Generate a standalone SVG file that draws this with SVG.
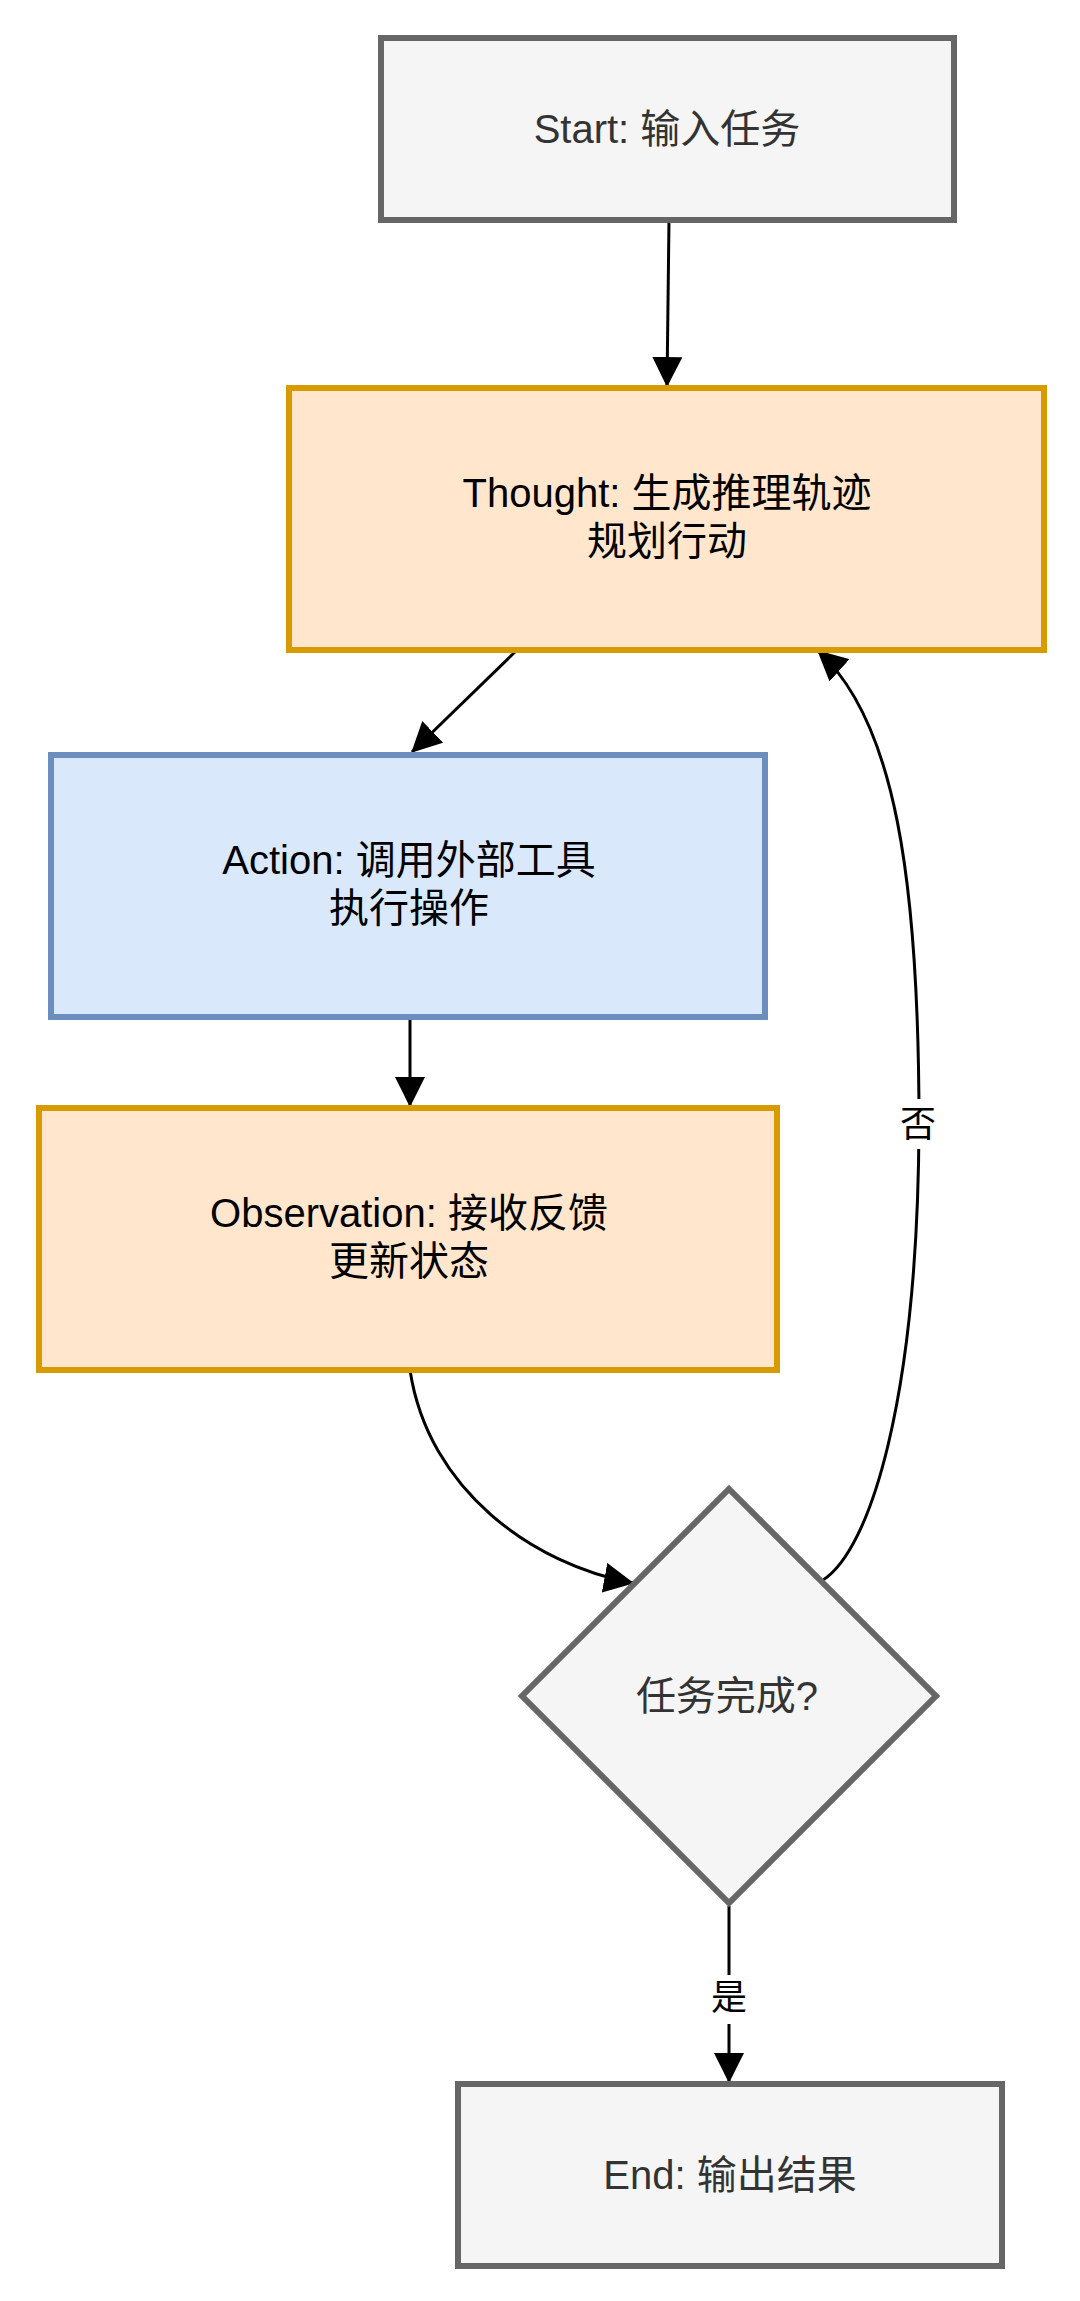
<svg xmlns="http://www.w3.org/2000/svg" width="1080" height="2301" viewBox="0 0 1080 2301">
  <defs>
    <marker id="arrow" markerUnits="userSpaceOnUse" markerWidth="30" markerHeight="30" viewBox="0 0 28 28" refX="27" refY="14" orient="auto">
      <path d="M0,0 L28,14 L0,28 Z" fill="#000000"/>
    </marker>
    <style>
      .t { font-family: "Liberation Sans", Arial, "Noto Sans CJK SC", sans-serif; font-size: 40px; text-anchor: middle; }
      .grey { fill: #f5f5f5; stroke: #666666; stroke-width: 6; }
      .orange { fill: #ffe6cc; stroke: #d79b00; stroke-width: 6; }
      .blue { fill: #dae8fc; stroke: #6c8ebf; stroke-width: 6; }
      .edge { fill: none; stroke: #000000; stroke-width: 3; marker-end: url(#arrow); }
      .lbl { font-family: "Liberation Sans", Arial, "Noto Sans CJK SC", sans-serif; font-size: 36px; text-anchor: middle; fill: #000000; }
    </style>
  </defs>
  <rect width="1080" height="2301" fill="#ffffff"/>

  <g id="connectors">
    <path class="edge" d="M669,220 L667,386"/>
    <path class="edge" d="M517,650 L412,752"/>
    <path class="edge" d="M410,1017 L410,1106"/>
    <path class="edge" d="M410,1370 C428,1490 533,1564.5 633,1583"/>
    <path class="edge" d="M823,1580 C870,1550 918,1400 919,1124 C919,880 895,720 818,651"/>
    <path class="edge" d="M729,1906 L729,2082"/>
    <rect x="898" y="1099" width="42" height="50" fill="#ffffff"/>
    <text class="lbl" x="918" y="1137">否</text>
    <rect x="708" y="1975" width="42" height="49" fill="#ffffff"/>
    <text class="lbl" x="729" y="2010">是</text>
  </g>

  <g id="start">
    <rect class="grey" x="381" y="38" width="573" height="182"/>
    <text class="t" x="667" y="143" fill="#333333">Start: 输入任务</text>
  </g>

  <g id="thought">
    <rect class="orange" x="289" y="388" width="755" height="262"/>
    <text class="t" x="667" y="507" fill="#000000">Thought: 生成推理轨迹</text>
    <text class="t" x="667" y="555" fill="#000000">规划行动</text>
  </g>

  <g id="action">
    <rect class="blue" x="51" y="755" width="714" height="262"/>
    <text class="t" x="409" y="874" fill="#000000">Action: 调用外部工具</text>
    <text class="t" x="409" y="922" fill="#000000">执行操作</text>
  </g>

  <g id="observation">
    <rect class="orange" x="39" y="1108" width="738" height="262"/>
    <text class="t" x="409" y="1227" fill="#000000">Observation: 接收反馈</text>
    <text class="t" x="409" y="1275" fill="#000000">更新状态</text>
  </g>

  <g id="decision">
    <polygon class="grey" points="729,1489 936,1696 729,1903 522,1696"/>
    <text class="t" x="727" y="1710" fill="#333333">任务完成?</text>
  </g>

  <g id="end">
    <rect class="grey" x="458" y="2084" width="544" height="182"/>
    <text class="t" x="730" y="2189" fill="#333333">End: 输出结果</text>
  </g>
</svg>
